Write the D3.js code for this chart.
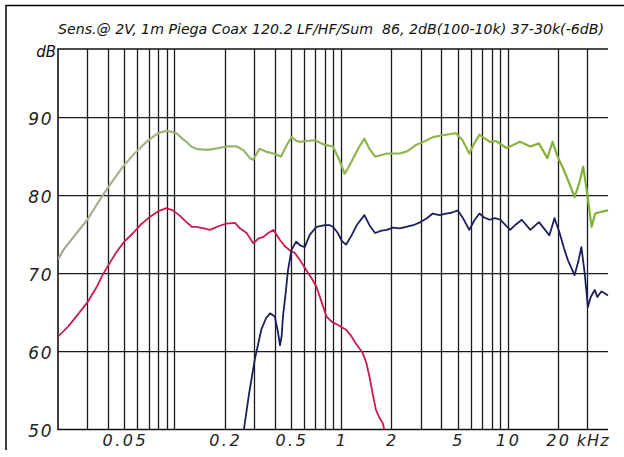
<!DOCTYPE html>
<html>
<head>
<meta charset="utf-8">
<script src="https://cdn.jsdelivr.net/npm/d3@7"></script>
<style>
  body { margin: 0; background: #fff; }
  svg { display: block; }
</style>
</head>
<body>
<div id="vis-container"></div>
<script>
// data: frequency in Hz, level in dB
var sumFreq = [20, 21.5, 25, 30, 37, 43, 49, 57, 68, 76, 82, 90, 95, 103, 110, 118, 126, 135, 150, 163, 185, 205, 237, 260, 284, 297, 324, 360, 393, 436, 470, 504, 540, 566, 620, 695, 799, 894, 975, 1050, 1100, 1170, 1280, 1380, 1480, 1600, 1750, 1880, 2250, 2500, 2820, 3200, 3550, 4260, 4900, 5360, 5880, 6300, 6770, 7200, 7800, 8500, 9850, 10800, 11850, 13680, 15400, 17300, 18600, 19950, 21500, 23000, 25200, 26800, 28400, 29800, 31900, 33500, 36000, 40000];
var sumDb = [71.8, 73.0, 74.8, 76.9, 80.0, 82.0, 83.7, 85.3, 86.9, 87.7, 88.1, 88.3, 88.2, 88.0, 87.4, 86.9, 86.3, 86.0, 85.9, 85.9, 86.1, 86.3, 86.3, 85.8, 84.8, 84.6, 86.0, 85.6, 85.4, 85.0, 86.4, 87.5, 87.0, 86.9, 87.0, 87.1, 86.5, 86.3, 84.6, 82.8, 83.5, 84.6, 86.2, 87.3, 86.0, 85.0, 85.2, 85.4, 85.4, 85.7, 86.5, 87.0, 87.5, 87.8, 88.0, 87.1, 85.4, 86.7, 87.8, 87.4, 86.9, 87.0, 86.1, 86.5, 86.9, 86.3, 86.7, 84.8, 86.9, 85.0, 83.5, 82.0, 79.8, 81.5, 83.7, 80.7, 76.0, 77.7, 77.9, 78.1];

var lfFreq = [20, 23, 26, 30, 34, 37, 41, 45, 50, 56.5, 63, 71.4, 80, 89.5, 98, 108, 118, 127, 135, 150, 163, 185, 205, 231, 247, 271, 297, 320, 342, 365, 393, 430, 460, 491, 530, 575, 620, 665, 712, 760, 817, 880, 960, 1070, 1150, 1230, 1350, 1420, 1480, 1550, 1620, 1700, 1780, 1840];
var lfDb = [61.9, 63.2, 64.6, 66.3, 68.2, 69.8, 71.4, 72.8, 74.1, 75.2, 76.3, 77.3, 78.0, 78.4, 78.1, 77.4, 76.6, 76.0, 76.0, 75.8, 75.6, 76.1, 76.4, 76.5, 75.8, 75.2, 73.9, 74.5, 74.7, 75.2, 75.6, 74.3, 73.5, 73.0, 72.6, 71.5, 70.4, 69.4, 68.3, 66.5, 64.5, 63.8, 63.4, 62.8, 62.0, 61.0, 59.8, 58.5, 56.8, 54.5, 52.5, 51.5, 50.8, 49.5];

var hfFreq = [255, 280, 303, 332, 355, 375, 400, 418, 430, 440, 448, 465, 480, 504, 537, 570, 605, 650, 712, 799, 856, 894, 956, 1010, 1070, 1150, 1250, 1380, 1480, 1600, 1750, 1880, 2050, 2250, 2450, 2710, 3000, 3270, 3550, 3900, 4260, 4600, 5020, 5360, 5880, 6300, 6770, 7200, 7800, 8400, 9050, 10350, 11200, 12150, 13680, 15400, 16500, 17800, 19100, 20500, 21800, 23000, 25200, 26500, 27700, 29000, 30300, 31500, 33300, 34500, 36500, 38000, 40000];
var hfDb = [48.5, 54.5, 58.9, 62.8, 64.3, 64.9, 64.5, 62.5, 60.8, 62.0, 64.5, 67.5, 70.4, 73.0, 74.1, 73.6, 73.4, 75.0, 76.0, 76.2, 76.2, 76.0, 75.2, 74.2, 73.7, 74.8, 76.3, 77.5, 76.2, 75.2, 75.5, 75.6, 75.9, 75.8, 76.0, 76.2, 76.6, 77.1, 77.7, 77.5, 77.7, 77.8, 78.1, 77.2, 75.6, 76.8, 77.7, 77.2, 76.9, 77.1, 76.9, 75.6, 76.3, 76.9, 75.6, 76.6, 75.8, 74.9, 77.1, 75.2, 73.2, 71.7, 69.8, 71.5, 73.4, 70.0, 65.7, 67.0, 67.9, 67.0, 67.7, 67.5, 67.2];

var gridFreq = [30, 40, 50, 60, 70, 80, 90, 100, 200, 300, 400, 500, 600, 700, 800, 900, 1000, 2000, 3000, 4000, 5000, 6000, 7000, 8000, 9000, 10000, 20000, 30000];
var xTickFreq = [50, 200, 500, 1000, 2000, 5000, 10000, 20000];
var xTickLabels = ["0.05", "0.2", "0.5", "1", "2", "5", "10", "20"];
var yTicks = [50, 60, 70, 80, 90];

var title = "Sens.@ 2V, 1m Piega Coax 120.2 LF/HF/Sum  86, 2dB(100-10k) 37-30k(-6dB)";

var width = 624, height = 457;
var plotL = 58, plotR = 608, plotT = 49, plotB = 429.5;

var svg = d3
  .select("#vis-container")
  .append("svg")
  .attr("width", width)
  .attr("height", height);

var x = d3.scaleLog().domain([20, 40000]).range([plotL, plotR]);
var y = d3.scaleLinear().domain([50, 98.8]).range([plotB, plotT]);

// outer frame (top and left only)
svg.append("path")
  .attr("d", "M6,450 V5.5 H624")
  .attr("fill", "none")
  .attr("stroke", "#000")
  .attr("stroke-width", 1.5);

// title
svg.append("text")
  .attr("x", 58)
  .attr("y", 34)
  .attr("textLength", 546)
  .attr("lengthAdjust", "spacingAndGlyphs")
  .style("white-space", "pre")
  .style("font-family", "'Liberation Sans Narrow', 'DejaVu Sans Condensed', sans-serif")
  .style("font-style", "italic")
  .style("font-size", "14.5px")
  .attr("fill", "#111")
  .text(title);

svg.append("text")
  .attr("x", 56)
  .attr("y", 57)
  .attr("text-anchor", "end")
  .style("font-family", "'DejaVu Sans', sans-serif")
  .style("font-style", "italic")
  .style("font-size", "15px")
  .attr("fill", "#111")
  .text("dB");

// grid
var grid = svg.append("g").attr("stroke", "#1a1a1a").attr("stroke-width", 1.3);

grid.selectAll("line.v")
  .data(gridFreq)
  .enter()
  .append("line")
  .attr("x1", (d) => Math.round(x(d)) + 0.5)
  .attr("x2", (d) => Math.round(x(d)) + 0.5)
  .attr("y1", plotT)
  .attr("y2", plotB);

grid.selectAll("line.h")
  .data([60, 70, 80, 90])
  .enter()
  .append("line")
  .attr("x1", plotL)
  .attr("x2", plotR)
  .attr("y1", (d) => y(d))
  .attr("y2", (d) => y(d));

// plot frame: top, left, bottom
svg.append("path")
  .attr("d", "M" + plotR + "," + plotT + " H" + plotL + " V" + plotB + " H" + plotR)
  .attr("fill", "none")
  .attr("stroke", "#111")
  .attr("stroke-width", 1.6);

// y labels
svg.selectAll("text.ylab")
  .data(yTicks)
  .enter()
  .append("text")
  .attr("class", "ylab")
  .attr("x", 53)
  .attr("y", (d) => y(d) + 7)
  .attr("text-anchor", "end")
  .style("font-family", "'DejaVu Sans', sans-serif")
  .style("font-style", "italic")
  .style("font-size", "17px")
  .style("letter-spacing", "1.5px")
  .attr("fill", "#222")
  .text((d) => d);

// x labels
svg.selectAll("text.xlab")
  .data(xTickFreq)
  .enter()
  .append("text")
  .attr("class", "xlab")
  .attr("x", (d) => x(d) + 1)
  .attr("y", 446)
  .attr("text-anchor", "middle")
  .style("font-family", "'DejaVu Sans', sans-serif")
  .style("font-style", "italic")
  .style("font-size", "16px")
  .style("letter-spacing", "2.5px")
  .attr("fill", "#222")
  .text((d, i) => xTickLabels[i]);

svg.append("text")
  .attr("x", x(20000) + 19)
  .attr("y", 446)
  .style("font-family", "'DejaVu Sans', sans-serif")
  .style("font-style", "italic")
  .style("font-size", "16px")
  .style("letter-spacing", "1px")
  .attr("fill", "#222")
  .text("kHz");

// curves
svg.append("clipPath")
  .attr("id", "plot-clip")
  .append("rect")
  .attr("x", plotL)
  .attr("y", plotT)
  .attr("width", plotR - plotL + 2)
  .attr("height", plotB - plotT);

var defs = svg.append("defs");
var grad = defs.append("linearGradient")
  .attr("id", "sum-grad")
  .attr("gradientUnits", "userSpaceOnUse")
  .attr("x1", plotL).attr("x2", plotR)
  .attr("y1", 0).attr("y2", 0);
[[0, "#a4a49a"], [0.12, "#b2b48c"], [0.22, "#9cb47a"], [0.4, "#8fb45a"], [0.7, "#93b644"], [1, "#7fb034"]]
  .forEach((s) => grad.append("stop").attr("offset", s[0]).attr("stop-color", s[1]));

var line = d3.line()
  .x((d) => x(d[0]))
  .y((d) => y(d[1]));

var curves = svg.append("g").attr("clip-path", "url(#plot-clip)").attr("fill", "none")
  .attr("stroke-linejoin", "round");

curves.append("path")
  .attr("d", line(d3.zip(sumFreq, sumDb)))
  .attr("stroke", "url(#sum-grad)")
  .attr("stroke-width", 2.2);

curves.append("path")
  .attr("d", line(d3.zip(lfFreq, lfDb)))
  .attr("stroke", "#cc1a4c")
  .attr("stroke-width", 1.8);

curves.append("path")
  .attr("d", line(d3.zip(hfFreq, hfDb)))
  .attr("stroke", "#1d1f5c")
  .attr("stroke-width", 1.8);
</script>
</body>
</html>
